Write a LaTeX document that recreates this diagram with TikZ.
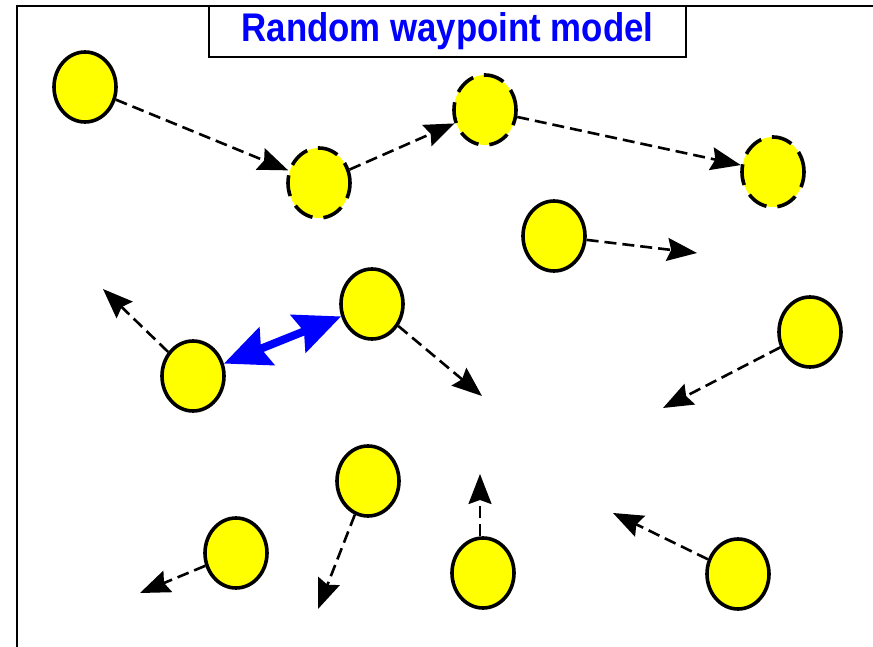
\documentclass[tikz,border=0pt]{standalone}
\usepackage{fontspec}
\usepackage{graphicx}
\setmainfont{Liberation Sans}
\usetikzlibrary{shapes.geometric,arrows.meta}
\definecolor{dotyellow}{RGB}{255,255,0}
\definecolor{titleblue}{RGB}{0,0,255}
\tikzset{
  mnode/.style={ellipse, draw=black, fill=dotyellow, line width=3.6pt,
    minimum width=62pt, minimum height=70pt, inner sep=0pt},
  ghost/.style={mnode, dash pattern=on 21pt off 11pt},
  move/.style={line width=2.6pt, dash pattern=on 12pt off 6pt,
    -{Stealth[length=30pt,width=23pt,inset=4pt]}},
  link/.style={line width=8pt, draw=titleblue,
    {Stealth[length=46pt,width=40pt,inset=6pt]}-{Stealth[length=46pt,width=40pt,inset=6pt]}},
  framebox/.style={line width=2.2pt},
}
\begin{document}
\begin{tikzpicture}[x=1pt,y=-1pt]
\useasboundingbox (0,0) rectangle (873,647);
% frame
\draw[framebox] (17,647) -- (17,6) -- (873,6);
\node[draw, line width=2.4pt, fill=white, minimum width=477pt, minimum height=51pt, inner sep=0pt] (title) at (447.5,31.5)
  {\scalebox{0.87}[1]{\fontsize{40pt}{40pt}\selectfont\bfseries\color{titleblue}Random waypoint model}};
% nodes
\node[mnode] (c1) at (85,87) {};
\node[ghost] (c2) at (319,183) {};
\node[ghost] (c3) at (485,110) {};
\node[ghost] (c4) at (773,172) {};
\node[mnode] (c5) at (554,236) {};
\node[mnode] (c6) at (372,304) {};
\node[mnode] (c7) at (193,376) {};
\node[mnode] (c8) at (810,332) {};
\node[mnode] (c9) at (368,481) {};
\node[mnode] (c10) at (236,553) {};
\node[mnode] (c11) at (483,573) {};
\node[mnode] (c12) at (738,574) {};
% free ends
\coordinate (pd) at (697,253);
\coordinate (pe) at (482,396);
\coordinate (pf) at (103,289);
\coordinate (pg) at (663,408);
\coordinate (ph) at (318,609);
\coordinate (pi) at (140,593);
\coordinate (pj) at (480,474);
\coordinate (pk) at (613,513);
% movements
\draw[move] (c1) -- (c2);
\draw[move] (c2) -- (c3);
\draw[move] (c3) -- (c4);
\draw[move] (c5) -- (pd);
\draw[move] (c6) -- (pe);
\draw[move] (c7) -- (pf);
\draw[move] (c8) -- (pg);
\draw[move] (c9) -- (ph);
\draw[move] (c10) -- (pi);
\draw[move] (c11.north -| pj) -- (pj);
\draw[move] (c12) -- (pk);
% link
\draw[link] (c7) -- (c6);
\end{tikzpicture}
\end{document}
